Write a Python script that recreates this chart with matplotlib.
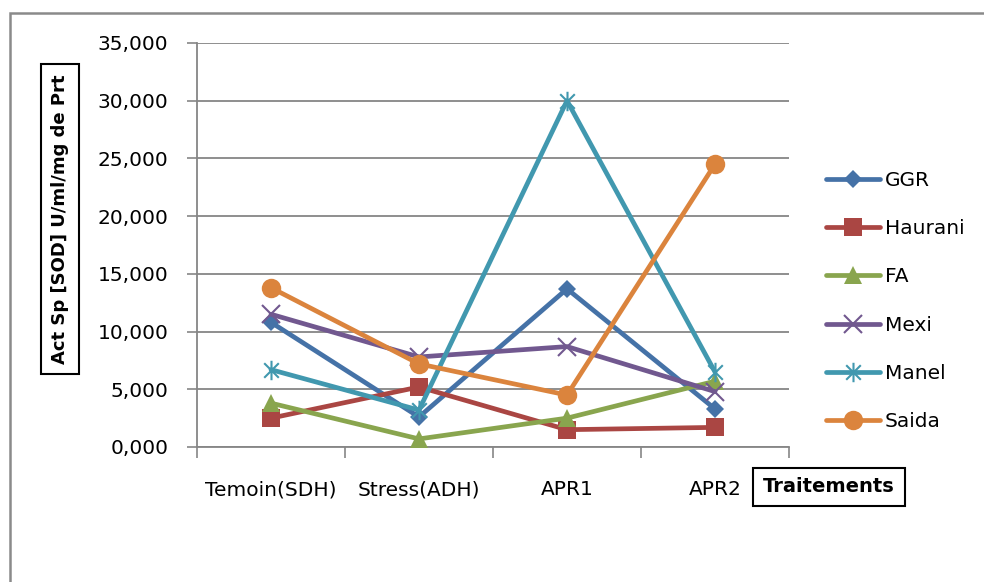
import matplotlib
matplotlib.use("Agg")
import matplotlib.pyplot as plt
from matplotlib.path import Path
from matplotlib.patches import Rectangle
import numpy as np

plt.rcParams['font.family'] = ['DejaVu Sans']

categories = ["Temoin(SDH)", "Stress(ADH)", "APR1", "APR2"]
series_names = ["GGR", "Haurani", "FA", "Mexi", "Manel", "Saida"]
ggr = [10.8, 2.6, 13.7, 3.3]
haurani = [2.5, 5.2, 1.5, 1.7]
fa = [3.8, 0.7, 2.5, 5.7]
mexi = [11.5, 7.8, 8.7, 4.8]
manel = [6.7, 3.2, 30.0, 6.5]
saida = [13.8, 7.2, 4.5, 24.5]
yticks = [0, 5, 10, 15, 20, 25, 30, 35]

colors = ["#4572A7", "#AA4643", "#89A54E", "#71588F", "#4198AF", "#DB843D"]

star = Path([(0, 1), (0, -1), (-0.75, 0.75), (0.75, -0.75), (-0.75, -0.75), (0.75, 0.75)],
            [Path.MOVETO, Path.LINETO, Path.MOVETO, Path.LINETO, Path.MOVETO, Path.LINETO])

styles = [
    dict(marker='D', ms=9, mew=0),
    dict(marker='s', ms=12.5, mew=0),
    dict(marker='^', ms=13, mew=0),
    dict(marker='x', ms=13, mew=1.5),
    dict(marker=star, ms=14, mew=1.5),
    dict(marker='o', ms=14, mew=0),
]

fig = plt.figure(figsize=(9.84, 5.82), dpi=100)
ax = fig.add_axes([197/984, 1-447/582, 592/984, 404/582])

x = np.arange(len(categories))
data = [ggr, haurani, fa, mexi, manel, saida]
handles = []
for name, vals, c, st in zip(series_names, data, colors, styles):
    h, = ax.plot(x, vals, color=c, lw=3.4, label=name, mfc=c, mec=c,
                 solid_joinstyle='round', solid_capstyle='round', zorder=3, **st)
    handles.append(h)

ax.set_xlim(-0.5, len(categories) - 0.5)
ax.set_ylim(0, 35)
ax.set_yticks(yticks)
ax.set_yticklabels([f"{v:.3f}".replace('.', ',') for v in yticks], fontsize=14.5)
ax.set_xticks(x)
ax.set_xticklabels(categories, fontsize=14.5)
ax.set_xticks(np.arange(-0.5, len(categories), 1.0), minor=True)
ax.tick_params(axis='x', which='major', length=0, pad=24)
ax.tick_params(axis='x', which='minor', length=8, width=1.2, color='#868686', direction='out')
ax.tick_params(axis='y', length=7.5, width=1.2, color='#868686', direction='out', pad=13)
ax.yaxis.grid(True, color='#868686', lw=1.3)
ax.set_axisbelow(True)
for s in ['top', 'right']:
    ax.spines[s].set_visible(False)
for s in ['left', 'bottom']:
    ax.spines[s].set_color('#868686')
    ax.spines[s].set_linewidth(1.3)

leg = fig.legend(handles=handles, loc='upper left', bbox_to_anchor=(826/984, 1-171/582),
                 frameon=False, fontsize=14.5, handlelength=2.68, handletextpad=0.25,
                 labelspacing=1.45, borderpad=0, borderaxespad=0)

fig.text(60/984, 1-219/582, "Act Sp [SOD] U/ml/mg de Prt", rotation=90, fontsize=13,
         fontweight='bold', ha='center', va='center',
         bbox=dict(boxstyle='square,pad=0.55', fc='white', ec='black', lw=1.5))
fig.text(829/984, 1-487/582, "Traitements", fontsize=14, fontweight='bold',
         ha='center', va='center',
         bbox=dict(boxstyle='square,pad=0.5', fc='white', ec='black', lw=1.5))

fig.patches.append(Rectangle((10/984, -0.1), 1.2, 1.1 - 13/582, transform=fig.transFigure,
                             fill=False, ec='#8a8a8a', lw=1.8))

fig.savefig("out.png", dpi=100)
